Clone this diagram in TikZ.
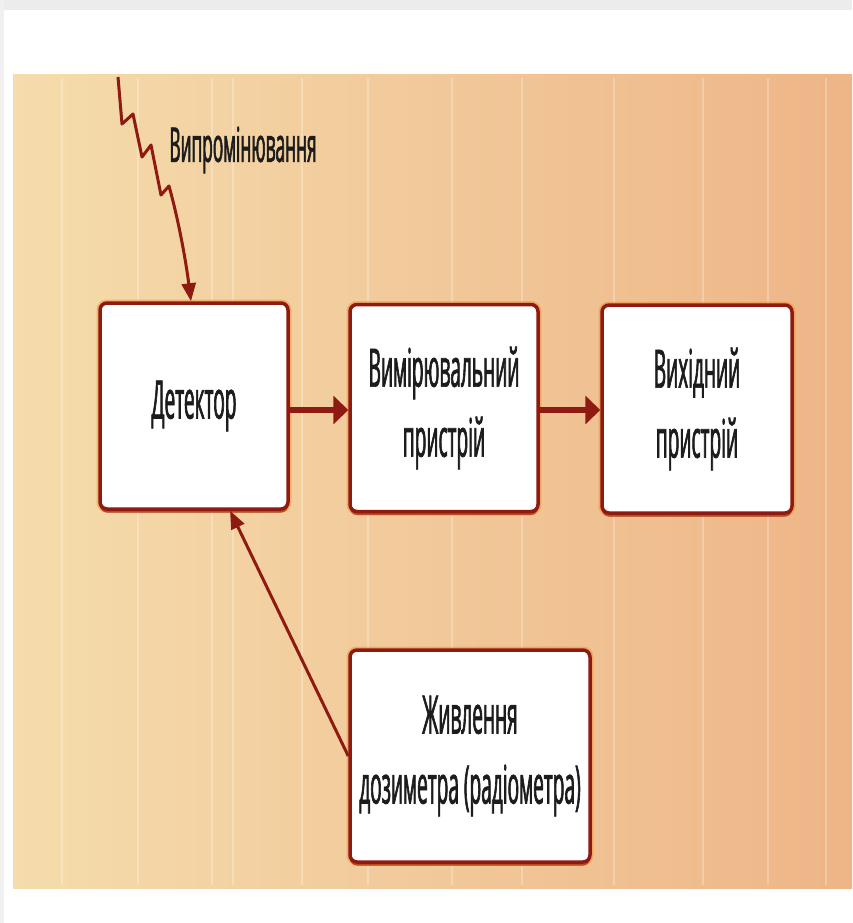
\documentclass[tikz,border=0pt]{standalone}
\usepackage{fontspec}
\usetikzlibrary{arrows.meta,shadows}
\newfontfamily\boxfont[FakeStretch=0.36,FakeBold=1.2]{Open Sans}
\definecolor{linkred}{HTML}{8E1A12}
\definecolor{glow}{HTML}{F08A2A}
\definecolor{paperleft}{HTML}{F5DCAC}
\definecolor{paperright}{HTML}{EEB587}
\definecolor{inktext}{HTML}{1C1C1C}
\tikzset{
  blockbox/.style={draw=linkred, line width=3.5pt, fill=white, rounded corners=7pt,
    inner sep=0pt, align=center, text=inktext,
    font=\boxfont\fontsize{53}{70}\selectfont,
    drop shadow={shadow xshift=0pt, shadow yshift=-3.5pt, fill=linkred, opacity=1},
    preaction={draw=glow, line width=7pt, opacity=0.45}},
  flow/.style={draw=linkred, line width=6pt, -{Triangle[length=15pt,width=28pt]}},
  feed/.style={draw=linkred, line width=3pt, -{Triangle[length=18pt,width=14pt]}},
  streak/.style={white, line width=1.5pt, opacity=0.25}
}
\begin{document}
\begin{tikzpicture}[x=1pt,y=-1pt]
  \useasboundingbox (0,0) rectangle (852,923);
  % page
  \fill[white] (0,0) rectangle (852,923);
  \fill[gray!15] (0,0) rectangle (852,10);
  \fill[gray!12] (0,0) rectangle (4,923);
  % tinted paper panel
  \shade[left color=paperleft, right color=paperright] (13,75) rectangle (852,888);
  \foreach \sx in {62,138,212,233,302,368,452,522,614,703,768,826}
    \draw[streak] (\sx,78) -- (\sx,885);

  % blocks
  \node[blockbox, minimum width=188pt, minimum height=206pt] (det) at (194,406) {Детектор};
  \node[blockbox, minimum width=188pt, minimum height=207pt] (meas) at (444,408) {Вимірювальний\\пристрій};
  \node[blockbox, minimum width=190pt, minimum height=208pt] (out) at (697,409) {Вихідний\\пристрій};
  \node[blockbox, minimum width=240pt, minimum height=212pt] (pwr) at (470,756) {Живлення\\дозиметра (радіометра)};

  % incoming radiation
  \coordinate (src) at (118,77);
  \node[text=inktext, font=\boxfont\fontsize{48}{50}\selectfont] (rad) at (243,150) {Випромінювання};
  \draw[feed, line join=round] (src) -- (122,124) -- (133,114) -- (142,157) -- (151,145)
    -- (161,195) -- (169,186) .. controls (179,222) and (186,262) .. ([xshift=-3pt]det.north);

  % signal chain
  \draw[flow] ([yshift=-4pt]det.east) -- ([yshift=-4pt]det.east -| meas.west);
  \draw[flow] ([yshift=-2pt]meas.east) -- ([yshift=-2pt]meas.east -| out.west);
  % supply
  \draw[feed] (pwr.west) -- (det.-71);
\end{tikzpicture}
\end{document}
